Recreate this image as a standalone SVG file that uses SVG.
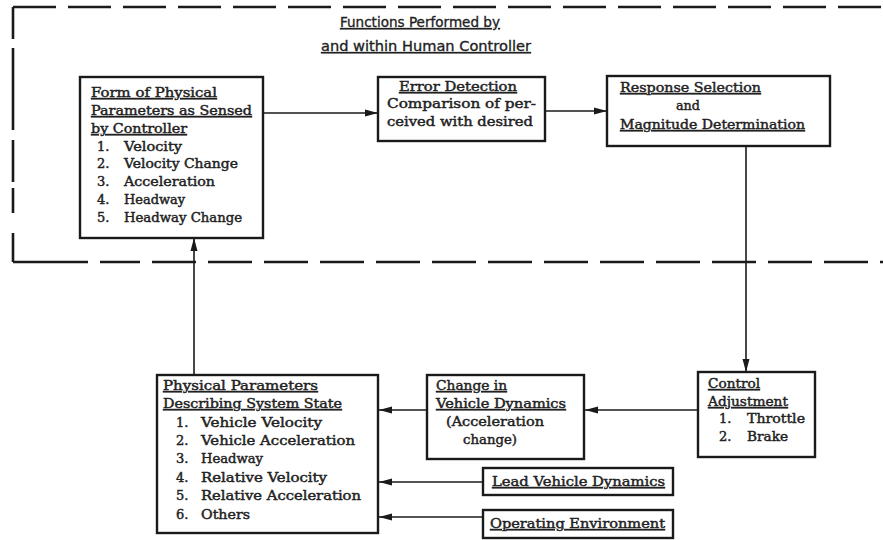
<svg xmlns="http://www.w3.org/2000/svg" width="883" height="540" viewBox="0 0 883 540">
<defs>
<marker id="ah" viewBox="0 0 13 8" refX="13" refY="4" markerWidth="13" markerHeight="8" markerUnits="userSpaceOnUse" orient="auto">
<path d="M0,0.5 L13,4 L0,7.5 z" fill="#1a1a1a"/>
</marker>
</defs>
<style>
.bg{fill:#ffffff}
.box{fill:#ffffff;stroke:#1a1a1a;stroke-width:2.4}
.dash{fill:none;stroke:#1a1a1a;stroke-width:2.6}
.con{fill:none;stroke:#1a1a1a;stroke-width:1.6;marker-end:url(#ah)}
text{font-family:"DejaVu Serif","Liberation Serif",serif;font-size:13px;font-weight:normal;fill:#222222;stroke:#222222;stroke-width:0.45}
.t{font-family:"DejaVu Sans","Liberation Sans",sans-serif;font-stretch:condensed;font-size:14px;stroke-width:0.3}
.u{text-decoration:underline}
</style>
<rect class="bg" x="0" y="0" width="883" height="540"/>

<g id="boundary">
<path class="dash" d="M13,7 H883" stroke-dasharray="43 12"/>
<path class="dash" d="M13,7 V262" stroke-dasharray="32 9 82 10 42 6 25 20 40"/>
<path class="dash" d="M13,262 H883" stroke-dasharray="75 12 40 12 44 12 44 12 44 12 44 12 44 12 44 12 44 12 44 12 44 12 44 12 44 12 44 12 44 12 44 12"/>
<text class="t u" x="420" y="27" text-anchor="middle" textLength="160" lengthAdjust="spacingAndGlyphs">Functions Performed by</text>
<text class="t u" x="426" y="51" text-anchor="middle" textLength="210" lengthAdjust="spacingAndGlyphs">and within Human Controller</text>
</g>

<g id="connectors">
<line class="con" x1="263" y1="113" x2="378" y2="113"/>
<line class="con" x1="545" y1="111" x2="607" y2="111"/>
<line class="con" x1="746" y1="146" x2="746" y2="372"/>
<line class="con" x1="698" y1="410" x2="585" y2="410"/>
<line class="con" x1="427" y1="410" x2="379" y2="410"/>
<line class="con" x1="483" y1="482" x2="379" y2="482"/>
<line class="con" x1="483" y1="517" x2="379" y2="517"/>
<line class="con" x1="194" y1="375" x2="194" y2="238"/>
</g>

<g id="form-of-physical-parameters">
<rect class="box" x="80" y="77" width="183" height="161"/>
<text class="u" x="91" y="97" textLength="126" lengthAdjust="spacingAndGlyphs">Form of Physical</text>
<text class="u" x="91" y="115" textLength="161" lengthAdjust="spacingAndGlyphs">Parameters as Sensed</text>
<text class="u" x="91" y="133" textLength="96" lengthAdjust="spacingAndGlyphs">by Controller</text>
<text x="97" y="151">1.</text><text x="124" y="151" textLength="58" lengthAdjust="spacingAndGlyphs">Velocity</text>
<text x="97" y="168">2.</text><text x="124" y="168" textLength="114" lengthAdjust="spacingAndGlyphs">Velocity Change</text>
<text x="97" y="186">3.</text><text x="124" y="186" textLength="91" lengthAdjust="spacingAndGlyphs">Acceleration</text>
<text x="97" y="204">4.</text><text x="124" y="204" textLength="61" lengthAdjust="spacingAndGlyphs">Headway</text>
<text x="97" y="222">5.</text><text x="124" y="222" textLength="118" lengthAdjust="spacingAndGlyphs">Headway Change</text>
</g>

<g id="error-detection">
<rect class="box" x="378" y="77" width="167" height="64"/>
<text class="u" x="399" y="91" textLength="118" lengthAdjust="spacingAndGlyphs">Error Detection</text>
<text x="387" y="108" textLength="149" lengthAdjust="spacingAndGlyphs">Comparison of per-</text>
<text x="387" y="126" textLength="146" lengthAdjust="spacingAndGlyphs">ceived with desired</text>
</g>

<g id="response-selection">
<rect class="box" x="607" y="76" width="223" height="70"/>
<text class="u" x="620" y="92" textLength="141" lengthAdjust="spacingAndGlyphs">Response Selection</text>
<text x="676" y="110" textLength="24" lengthAdjust="spacingAndGlyphs">and</text>
<text class="u" x="620" y="129" textLength="185" lengthAdjust="spacingAndGlyphs">Magnitude Determination</text>
</g>

<g id="control-adjustment">
<rect class="box" x="698" y="372" width="117" height="85"/>
<text class="u" x="708" y="388" textLength="52" lengthAdjust="spacingAndGlyphs">Control</text>
<text class="u" x="708" y="406" textLength="80" lengthAdjust="spacingAndGlyphs">Adjustment</text>
<text x="719" y="423">1.</text><text x="747" y="423" textLength="58" lengthAdjust="spacingAndGlyphs">Throttle</text>
<text x="719" y="441">2.</text><text x="747" y="441" textLength="41" lengthAdjust="spacingAndGlyphs">Brake</text>
</g>

<g id="change-in-vehicle-dynamics">
<rect class="box" x="427" y="375" width="157" height="84"/>
<text class="u" x="436" y="390" textLength="71" lengthAdjust="spacingAndGlyphs">Change in</text>
<text class="u" x="436" y="408" textLength="130" lengthAdjust="spacingAndGlyphs">Vehicle Dynamics</text>
<text x="446" y="426" textLength="98" lengthAdjust="spacingAndGlyphs">(Acceleration</text>
<text x="463" y="444" textLength="54" lengthAdjust="spacingAndGlyphs">change)</text>
</g>

<g id="physical-parameters">
<rect class="box" x="157" y="375" width="221" height="158"/>
<text class="u" x="163" y="390" textLength="155" lengthAdjust="spacingAndGlyphs">Physical Parameters</text>
<text class="u" x="163" y="408" textLength="179" lengthAdjust="spacingAndGlyphs">Describing System State</text>
<text x="176" y="427">1.</text><text x="201" y="427" textLength="121" lengthAdjust="spacingAndGlyphs">Vehicle Velocity</text>
<text x="176" y="445">2.</text><text x="201" y="445" textLength="154" lengthAdjust="spacingAndGlyphs">Vehicle Acceleration</text>
<text x="176" y="463">3.</text><text x="201" y="463" textLength="62" lengthAdjust="spacingAndGlyphs">Headway</text>
<text x="176" y="482">4.</text><text x="201" y="482" textLength="126" lengthAdjust="spacingAndGlyphs">Relative Velocity</text>
<text x="176" y="500">5.</text><text x="201" y="500" textLength="160" lengthAdjust="spacingAndGlyphs">Relative Acceleration</text>
<text x="176" y="519">6.</text><text x="201" y="519" textLength="49" lengthAdjust="spacingAndGlyphs">Others</text>
</g>

<g id="lead-vehicle-dynamics">
<rect class="box" x="483" y="468" width="190" height="27"/>
<text class="u" x="492" y="486" textLength="173" lengthAdjust="spacingAndGlyphs">Lead Vehicle Dynamics</text>
</g>

<g id="operating-environment">
<rect class="box" x="483" y="510" width="190" height="28"/>
<text class="u" x="490" y="528" textLength="175" lengthAdjust="spacingAndGlyphs">Operating Environment</text>
</g>
</svg>
